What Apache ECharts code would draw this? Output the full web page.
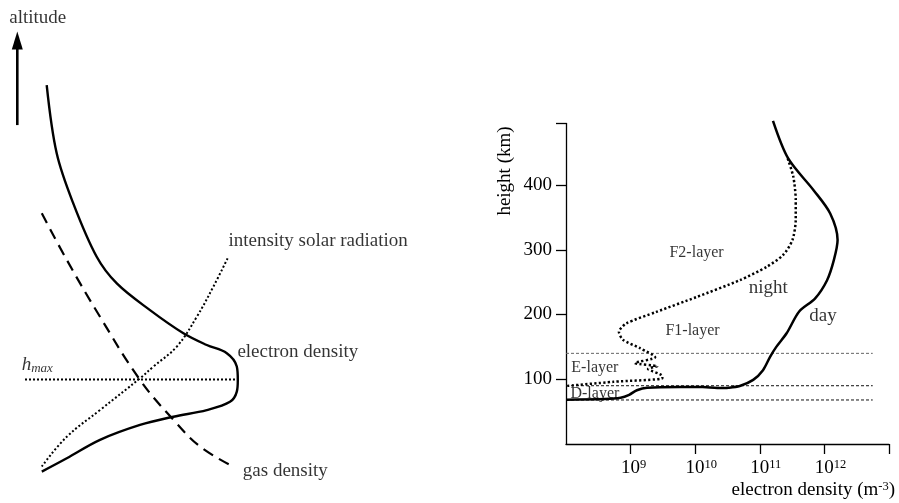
<!DOCTYPE html>
<html>
<head>
<meta charset="utf-8">
<script src="https://cdn.jsdelivr.net/npm/echarts@6/dist/echarts.min.js"></script>
<style>
  html, body { margin: 0; padding: 0; background: #fff; }
  #chart { width: 899px; height: 503px; }
</style>
</head>
<body>
<div id="chart"></div>
<script>
// ---- Left panel: schematic profiles against altitude (arbitrary units) ----
const electronProfile = [[3.35, 98.7], [8.35, 81.3], [16.65, 68.5], [28.35, 54.9], [38.4, 48.1],
  [55, 41.3], [71.7, 35.4], [83.4, 32.4], [93.4, 30.3], [98.4, 26.9], [98.9, 23.5], [98.4, 20.5],
  [95, 17.9], [83.4, 15.8], [66.7, 14.1], [50, 12], [30, 8.2], [13.4, 3.5], [0.9, 0.1]];
const gasProfile = [[0.9, 66], [13.4, 54.1], [30, 39.6], [50, 23.5], [66.7, 13.3], [80, 6.5], [95, 1.8]];
const radiationProfile = [[93.8, 54.5], [86.7, 47.3], [78.4, 39.6], [68.4, 32], [56.7, 26.9], [50, 23.9],
  [30, 15.8], [13.4, 9], [0.9, 1.4]];
const hMaxLevel = 23.6;
const hMaxExtent = [-7.5, 98.7];
const altitudeArrow = [[-11.35, 88.5], [-11.35, 110.1]];

// ---- Right panel: electron density (m^-3) against height (km) ----
const heightTicks = [100, 200, 300, 400];
const densityTicks = [1e9, 1e10, 1e11, 1e12];
const dayProfile = [[1.6e11, 499], [2.75e11, 441], [6.8e11, 392], [1.23e12, 356], [1.6e12, 315],
  [1.4e12, 284], [1.1e12, 253], [7.2e11, 225], [4.1e11, 205], [2.6e11, 171], [1.8e11, 150],
  [1.45e11, 135], [1.12e11, 114], [7.9e10, 99], [4.9e10, 89.6], [3.3e10, 87], [2.2e10, 86.5],
  [1.3e10, 88], [5.8e9, 88], [1.8e9, 87], [1.25e9, 83], [9.5e8, 76], [7e8, 71.5], [4e8, 69.5], [1e8, 68.5]];
const nightProfile = [[2.7e11, 441], [3.3e11, 413], [3.6e11, 377], [3.6e11, 346], [3.2e11, 315],
  [2.3e11, 292], [1.3e11, 274], [4.9e10, 253], [1.05e10, 227], [2.5e9, 204], [8.5e8, 186],
  [6.6e8, 173], [7.6e8, 161], [1.4e9, 148], [2.4e9, 134], [1.17e9, 125], [2.6e9, 120],
  [1.86e9, 116], [3.1e9, 105], [3.1e9, 101.5], [5.4e8, 96], [1e8, 89.6]];
const layerBoundaries = [140, 90, 68];
const boundaryExtent = [1e8, 5.6e12];

const FONT = 'Liberation Serif';
const BLACK = '#000';

// Text annotations anchored in data coordinates
function textMark(grid, value, text, opts) {
  return {
    type: 'scatter', xAxisIndex: grid, yAxisIndex: grid, symbolSize: 0, silent: true, clip: false,
    z: 5,
    data: [{ value: value }],
    label: Object.assign({
      show: true, formatter: text, position: 'right', distance: 0,
      color: BLACK, fontFamily: FONT, fontSize: 19
    }, opts || {})
  };
}

function curve(grid, data, lineStyle, smooth) {
  return {
    type: 'line', xAxisIndex: grid, yAxisIndex: grid, data: data, showSymbol: false,
    smooth: smooth === undefined ? 0.4 : smooth, silent: true, clip: false,
    lineStyle: Object.assign({ color: BLACK, width: 2.4 }, lineStyle)
  };
}

const series = [
  // left schematic
  curve(0, electronProfile, { width: 2.4 }, 0.35),
  curve(0, gasProfile, { width: 2.2, type: [11, 7] }),
  curve(0, radiationProfile, { width: 2, type: [2, 2.2] }),
  curve(0, [[hMaxExtent[0], hMaxLevel], [hMaxExtent[1], hMaxLevel]], { width: 2, type: [2, 2] }, false),
  {
    type: 'line', xAxisIndex: 0, yAxisIndex: 0, silent: true, clip: false,
    lineStyle: { color: BLACK, width: 2.6 },
    itemStyle: { color: BLACK },
    symbol: 'none',
    data: [{ value: altitudeArrow[0], symbol: 'none' },
           { value: altitudeArrow[1], symbol: 'triangle', symbolSize: [11, 18] }],
    showSymbol: true
  },
  textMark(0, [-15.35, 115.9], 'altitude'),
  textMark(0, [94.2, 58.9], 'intensity solar radiation'),
  textMark(0, [98.7, 30.6], 'electron density'),
  textMark(0, [-9.15, 27.3], '{h|h}{s|max}', {
    rich: {
      h: { fontFamily: FONT, fontStyle: 'italic', fontSize: 19, lineHeight: 20, color: BLACK },
      s: { fontFamily: FONT, fontStyle: 'italic', fontSize: 13, lineHeight: 12, verticalAlign: 'bottom', color: BLACK }
    }
  }),
  textMark(0, [101.4, 0.3], 'gas density'),

  // right panel
  ...layerBoundaries.map((h, i) => curve(1, [[boundaryExtent[0], h], [boundaryExtent[1], h]],
      { width: 1, type: [3, 2], color: i === 0 ? '#666' : '#111' }, false)),
  curve(1, dayProfile, { width: 2.5 }, 0.3),
  curve(1, nightProfile, { width: 2.5, type: [2.2, 2.3] }, 0.25),
  textMark(1, [1.05e10, 295.4], 'F2-layer', { position: 'inside', fontSize: 16 }),
  textMark(1, [9.1e9, 174.5], 'F1-layer', { position: 'inside', fontSize: 16 }),
  textMark(1, [2.8e8, 117.4], 'E-layer', { position: 'inside', fontSize: 16 }),
  textMark(1, [2.8e8, 77.2], 'D-layer', { position: 'inside', fontSize: 16 }),
  textMark(1, [1.35e11, 241.4], 'night', { position: 'inside' }),
  textMark(1, [9.5e11, 198], 'day', { position: 'inside' })
];

const chart = echarts.init(document.getElementById('chart'), null, { renderer: 'canvas' });
chart.setOption({
  animation: false,
  backgroundColor: '#fff',
  grid: [
    { left: 0, top: 1.6, width: 240, height: 470.4 },
    { left: 566, top: 123.5, right: 10, bottom: 59 }
  ],
  xAxis: [
    { type: 'value', gridIndex: 0, min: -20, max: 100, show: false },
    {
      type: 'log', logBase: 10, gridIndex: 1, min: 1e8, max: 1e13,
      axisLine: { lineStyle: { color: BLACK, width: 1.3 } },
      axisTick: { show: true, length: 10, customValues: [1e9, 1e10, 1e11, 1e12, 1e13],
                  lineStyle: { color: BLACK, width: 1.3 } },
      axisLabel: {
        customValues: densityTicks, margin: 14,
        formatter: v => {
          const e = String(Math.round(Math.log10(v)));
          return '{p' + e.length + '|}{b|10}{s|' + e + '}';
        },
        rich: {
          p1: { width: 6 }, p2: { width: 12 },
          b: { fontFamily: FONT, fontSize: 19, lineHeight: 20, color: BLACK },
          s: { fontFamily: FONT, fontSize: 12.5, lineHeight: 12, verticalAlign: 'top', color: BLACK }
        }
      },
      splitLine: { show: false },
      name: '{t|electron density (m}{s|-3}{t|)}',
      nameLocation: 'end', nameGap: 6,
      nameTextStyle: {
        align: 'right', verticalAlign: 'top', padding: [36, 0, 0, 0],
        rich: {
          t: { fontFamily: FONT, fontSize: 19, lineHeight: 20, color: BLACK },
          s: { fontFamily: FONT, fontSize: 12.5, lineHeight: 12, verticalAlign: 'top', color: BLACK }
        }
      }
    }
  ],
  yAxis: [
    { type: 'value', gridIndex: 0, min: 0, max: 120, show: false },
    {
      type: 'value', gridIndex: 1, min: 0, max: 495,
      axisLine: { show: true, lineStyle: { color: BLACK, width: 1.3 } },
      axisTick: { show: true, length: 10, customValues: [100, 200, 300, 400, 495],
                  lineStyle: { color: BLACK, width: 1.3 } },
      axisLabel: { customValues: heightTicks, margin: 14, color: BLACK, fontFamily: FONT, fontSize: 19 },
      splitLine: { show: false }
    }
  ],
  graphic: [{
    type: 'text', x: 505, y: 171, rotation: Math.PI / 2,
    style: { text: 'height (km)', fill: BLACK, font: '19px "Liberation Serif"', align: 'center', verticalAlign: 'middle' }
  }],
  series: series
});
</script>
</body>
</html>
